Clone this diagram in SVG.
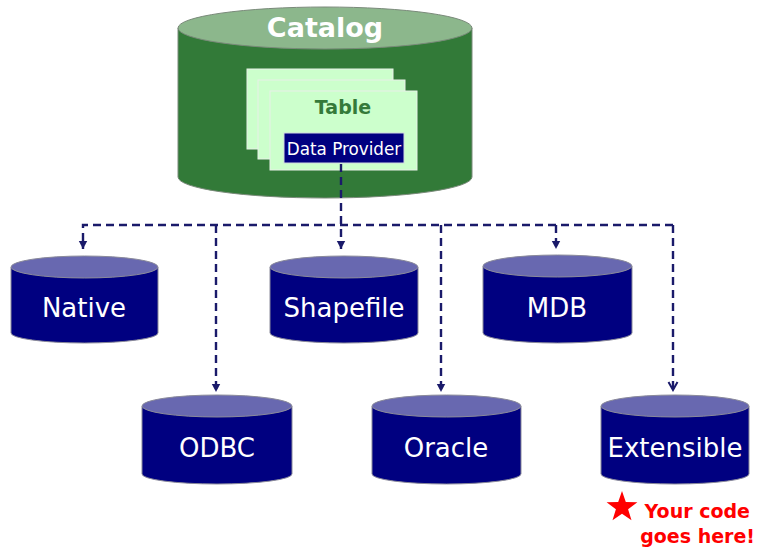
<svg xmlns="http://www.w3.org/2000/svg" width="758" height="549" viewBox="0 0 758 549">
<style>
.body{fill:#000080;stroke:#8a8a9a;stroke-width:1}
.top{fill:#6868b0;stroke:#8a8a9a;stroke-width:1}
.lbl{font-family:"DejaVu Sans",Verdana,sans-serif;font-size:26px;fill:#ffffff;text-anchor:middle}
.conn{fill:none;stroke:#1a1a6a;stroke-width:2.4;stroke-dasharray:8 5}
.card{fill:#ccffcc;stroke:#e8f0e8;stroke-width:1}
.note{font-family:"DejaVu Sans",Verdana,sans-serif;font-size:19px;font-weight:bold;fill:#ff0000;text-anchor:end}
</style>
<defs>
<marker id="arr" markerUnits="userSpaceOnUse" markerWidth="10" markerHeight="10" refX="9" refY="5" orient="auto">
<path d="M1,0.8 L9,5 L1,9.2 z" fill="#1a1a6a"/>
</marker>
<marker id="open" markerUnits="userSpaceOnUse" markerWidth="12" markerHeight="12" refX="10" refY="6" orient="auto">
<path d="M2,1.5 L10,6 L2,10.5" fill="none" stroke="#1a1a6a" stroke-width="2"/>
</marker>
</defs>

<g id="catalog">
<path d="M178,28 V177 A147,21 0 0 0 472,177 V28 Z" fill="#327a38" stroke="#7a8a7a" stroke-width="1"/>
<ellipse cx="325" cy="28" rx="147" ry="21" fill="#8cb78c" stroke="#7a8a7a" stroke-width="1"/>
<text x="325" y="37" font-family="'DejaVu Sans',Verdana,sans-serif" font-size="27" font-weight="bold" fill="#ffffff" text-anchor="middle">Catalog</text>
</g>

<g id="table">
<rect class="card" x="247" y="69" width="146" height="80"/>
<rect class="card" x="258" y="80" width="147" height="79"/>
<rect class="card" x="270" y="91" width="147" height="79"/>
<text x="343" y="114" font-family="'DejaVu Sans',Verdana,sans-serif" font-size="19" font-weight="bold" fill="#357a3a" text-anchor="middle">Table</text>
</g>

<g id="data-provider">
<rect x="284" y="133" width="120" height="30" fill="#000080" stroke="#d0d8e0" stroke-width="1"/>
<text x="344" y="155" font-family="'DejaVu Sans',Verdana,sans-serif" font-size="16.8" fill="#ffffff" text-anchor="middle">Data Provider</text>
</g>

<g id="connectors">
<path class="conn" d="M341,164 V249" marker-end="url(#arr)"/>
<path class="conn" d="M673,225 H83 V249" marker-end="url(#arr)"/>
<path class="conn" d="M556,225 V249" marker-end="url(#arr)"/>
<path class="conn" d="M216,225 V392" marker-end="url(#arr)"/>
<path class="conn" d="M441,225 V392" marker-end="url(#arr)"/>
<path class="conn" d="M673,225 V390" marker-end="url(#open)"/>
</g>

<g id="native">
<path class="body" d="M11,267 V333 A73.5,10 0 0 0 158,333 V267 Z"/>
<ellipse class="top" cx="84.5" cy="267" rx="73.5" ry="11"/>
<text class="lbl" x="84" y="317">Native</text>
</g>

<g id="shapefile">
<path class="body" d="M270,267 V333 A74,10 0 0 0 418,333 V267 Z"/>
<ellipse class="top" cx="344" cy="267" rx="74" ry="11"/>
<text class="lbl" x="344" y="317">Shapefile</text>
</g>

<g id="mdb">
<path class="body" d="M483,266 V333 A74.5,10 0 0 0 632,333 V266 Z"/>
<ellipse class="top" cx="557.5" cy="266" rx="74.5" ry="11"/>
<text class="lbl" x="557" y="317">MDB</text>
</g>

<g id="odbc">
<path class="body" d="M142,406 V474 A75,10 0 0 0 292,474 V406 Z"/>
<ellipse class="top" cx="217" cy="406" rx="75" ry="11"/>
<text class="lbl" x="217" y="457">ODBC</text>
</g>

<g id="oracle">
<path class="body" d="M372,406 V474 A74.5,10 0 0 0 521,474 V406 Z"/>
<ellipse class="top" cx="446.5" cy="406" rx="74.5" ry="11"/>
<text class="lbl" x="446" y="457">Oracle</text>
</g>

<g id="extensible">
<path class="body" d="M601,406 V474 A74,10 0 0 0 749,474 V406 Z"/>
<ellipse class="top" cx="675" cy="406" rx="74" ry="11"/>
<text class="lbl" x="675" y="457">Extensible</text>
</g>

<g id="note">
<polygon fill="#ff0000" points="622,491 625.8,502 637.4,502.2 628.1,509.2 631.5,520.3 622,513.7 612.5,520.3 615.9,509.2 606.6,502.2 618.2,502"/>
<text class="note" x="750" y="518">Your code</text>
<text class="note" x="755" y="543">goes here!</text>
</g>
</svg>
